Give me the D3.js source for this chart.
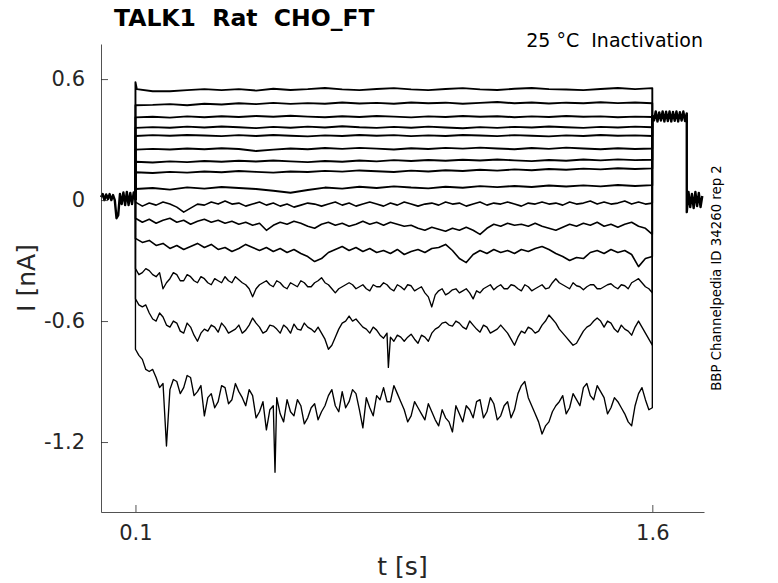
<!DOCTYPE html>
<html>
<head>
<meta charset="utf-8">
<script src="https://cdn.jsdelivr.net/npm/d3@7"></script>
<style>
    body { margin: 0; background: #fff; }
    svg text { font-family: "DejaVu Sans", sans-serif; white-space: pre; }
</style>
</head>
<body>
<svg id="chart" width="778" height="583"></svg>
<script>
// axis ticks
const yTicks = [0.6, 0, -0.6, -1.2];
const yTickLabels = ["0.6", "0", "-0.6", "-1.2"];
const xTicks = [0.1, 1.6];
const xTickLabels = ["0.1", "1.6"];

// holding current before the pulse (t in s, I in nA)
const holdTimes = [0, 0.005, 0.01, 0.015, 0.02, 0.025, 0.03, 0.035, 0.04, 0.045, 0.05,
    0.055, 0.06, 0.065, 0.07, 0.075, 0.08, 0.085, 0.09, 0.095, 0.1];
const holdCurrent = [0.015, 0.03, 0.0, 0.028, 0.005, 0.03, 0.0, 0.025, 0.0, -0.09, -0.075,
    0.03, -0.02, 0.038, -0.025, 0.04, -0.025, 0.035, -0.02, 0.038, 0.0];

// after the pulse: tail step, then back to holding
const postTimes = [1.6, 1.605, 1.61, 1.615, 1.62, 1.625, 1.63, 1.635, 1.64, 1.645, 1.65,
    1.655, 1.66, 1.665, 1.67, 1.675, 1.68, 1.685, 1.69, 1.695, 1.7,
    1.7, 1.705, 1.71, 1.715, 1.72, 1.725, 1.73, 1.735, 1.74, 1.745];
const postCurrent = [0.42, 0.395, 0.44, 0.39, 0.435, 0.395, 0.44, 0.39, 0.438, 0.392, 0.44,
    0.39, 0.437, 0.393, 0.44, 0.39, 0.436, 0.394, 0.44, 0.392, 0.43,
    -0.06, 0.04, -0.035, 0.03, -0.04, 0.04, -0.03, 0.035, -0.035, 0.02];

// sample times during the pulse
const coarseTimes = [0.1, 0.15, 0.2, 0.25, 0.3, 0.35, 0.4, 0.45, 0.5, 0.55, 0.6, 0.65, 0.7,
    0.75, 0.8, 0.85, 0.9, 0.95, 1.0, 1.05, 1.1, 1.15, 1.2, 1.25, 1.3, 1.35, 1.4, 1.45,
    1.5, 1.55, 1.6];
const fineTimes = [0.1, 0.12, 0.14, 0.16, 0.18, 0.2, 0.22, 0.24, 0.26, 0.28,
    0.3, 0.32, 0.34, 0.36, 0.38, 0.4, 0.42, 0.44, 0.46, 0.48,
    0.5, 0.52, 0.54, 0.56, 0.58, 0.6, 0.62, 0.64, 0.66, 0.68,
    0.7, 0.72, 0.74, 0.76, 0.78, 0.8, 0.82, 0.84, 0.86, 0.88,
    0.9, 0.92, 0.94, 0.96, 0.98, 1.0, 1.02, 1.04, 1.06, 1.08,
    1.1, 1.12, 1.14, 1.16, 1.18, 1.2, 1.22, 1.24, 1.26, 1.28,
    1.3, 1.32, 1.34, 1.36, 1.38, 1.4, 1.42, 1.44, 1.46, 1.48,
    1.5, 1.52, 1.54, 1.56, 1.58, 1.6];
const midTimes = [0.11, 0.13, 0.15, 0.17, 0.19, 0.21, 0.23, 0.25, 0.27, 0.29,
    0.31, 0.33, 0.35, 0.37, 0.39, 0.41, 0.43, 0.45, 0.47, 0.49,
    0.51, 0.53, 0.55, 0.57, 0.59, 0.61, 0.63, 0.65, 0.67, 0.69,
    0.71, 0.73, 0.75, 0.77, 0.79, 0.81, 0.83, 0.85, 0.87, 0.89,
    0.91, 0.93, 0.95, 0.97, 0.99, 1.01, 1.03, 1.05, 1.07, 1.09,
    1.11, 1.13, 1.15, 1.17, 1.19, 1.21, 1.23, 1.25, 1.27, 1.29,
    1.31, 1.33, 1.35, 1.37, 1.39, 1.41, 1.43, 1.45, 1.47, 1.49,
    1.51, 1.53, 1.55, 1.57, 1.59];

// sweeps, top to bottom
const trace1 = [0.545, 0.54, 0.54, 0.545, 0.55, 0.545, 0.55, 0.543, 0.552, 0.546,
    0.55, 0.556, 0.549, 0.545, 0.551, 0.555, 0.549, 0.545, 0.551, 0.555,
    0.549, 0.546, 0.552, 0.556, 0.55, 0.548, 0.545, 0.551, 0.556, 0.55, 0.555];
const trace2 = [0.47, 0.472, 0.476, 0.47, 0.478, 0.474, 0.48, 0.476, 0.482, 0.477,
    0.481, 0.478, 0.484, 0.479, 0.482, 0.478, 0.484, 0.48, 0.483, 0.478,
    0.482, 0.486, 0.48, 0.484, 0.479, 0.483, 0.48, 0.485, 0.481, 0.484, 0.48];
const trace3 = [0.41, 0.413, 0.409, 0.415, 0.411, 0.416, 0.412, 0.417, 0.413, 0.418,
    0.414, 0.411, 0.416, 0.412, 0.417, 0.414, 0.41, 0.415, 0.412, 0.417,
    0.413, 0.416, 0.411, 0.415, 0.412, 0.417, 0.413, 0.415, 0.411, 0.414, 0.412];
const trace4 = [0.358, 0.362, 0.359, 0.364, 0.36, 0.365, 0.361, 0.357, 0.363, 0.359,
    0.364, 0.36, 0.366, 0.361, 0.358, 0.363, 0.359, 0.364, 0.36, 0.356,
    0.362, 0.358, 0.363, 0.36, 0.365, 0.361, 0.358, 0.363, 0.36, 0.364, 0.361];
const trace5 = [0.318, 0.322, 0.319, 0.323, 0.32, 0.317, 0.322, 0.318, 0.323, 0.319,
    0.316, 0.321, 0.318, 0.323, 0.319, 0.322, 0.317, 0.321, 0.318, 0.323,
    0.32, 0.317, 0.322, 0.319, 0.316, 0.321, 0.318, 0.323, 0.319, 0.321, 0.318];
const trace6 = [0.25, 0.254, 0.251, 0.256, 0.252, 0.257, 0.253, 0.243, 0.25, 0.256,
    0.252, 0.258, 0.254, 0.259, 0.255, 0.251, 0.257, 0.253, 0.259, 0.255,
    0.26, 0.256, 0.252, 0.258, 0.254, 0.26, 0.256, 0.252, 0.257, 0.253, 0.256];
const trace7 = [0.19, 0.186, 0.192, 0.188, 0.194, 0.19, 0.195, 0.191, 0.196, 0.192,
    0.188, 0.194, 0.19, 0.196, 0.192, 0.198, 0.194, 0.199, 0.195, 0.2,
    0.196, 0.201, 0.197, 0.193, 0.199, 0.195, 0.201, 0.197, 0.202, 0.198, 0.2];
const trace8 = [0.138, 0.134, 0.14, 0.136, 0.142, 0.138, 0.144, 0.14, 0.136, 0.142,
    0.139, 0.145, 0.141, 0.147, 0.143, 0.139, 0.146, 0.142, 0.148, 0.144,
    0.15, 0.146, 0.152, 0.148, 0.154, 0.15, 0.156, 0.152, 0.158, 0.154, 0.157];
const trace9 = [0.055, 0.06, 0.052, 0.063, 0.057, 0.065, 0.06, 0.055, 0.046, 0.036,
    0.05, 0.062, 0.057, 0.066, 0.06, 0.068, 0.062, 0.058, 0.066, 0.061,
    0.069, 0.064, 0.07, 0.065, 0.072, 0.067, 0.073, 0.068, 0.075, 0.07, 0.074];
const trace10 = [-0.01, -0.03, -0.015, -0.025, -0.01, -0.02, -0.035, -0.06, -0.04, -0.02,
    -0.025, -0.01, -0.02, -0.005, -0.02, -0.015, -0.03, -0.02, -0.01, -0.025,
    -0.015, -0.03, -0.02, -0.035, -0.025, -0.015, -0.02, -0.03, -0.02, -0.01,
    -0.025, -0.015, -0.03, -0.02, -0.01, -0.02, -0.03, -0.015, -0.025, -0.01,
    -0.02, -0.03, -0.02, -0.015, -0.025, -0.01, -0.02, -0.015, -0.03, -0.02,
    -0.01, -0.025, -0.015, -0.02, -0.01, -0.02, -0.03, -0.015, -0.02, -0.01,
    -0.02, -0.015, -0.025, -0.01, -0.02, -0.015, -0.005, -0.02, -0.01, -0.02,
    -0.015, -0.005, -0.02, -0.01, -0.02, -0.015];
const trace11 = [-0.09, -0.11, -0.095, -0.115, -0.1, -0.09, -0.11, -0.1, -0.12, -0.105,
    -0.095, -0.11, -0.1, -0.115, -0.105, -0.12, -0.11, -0.125, -0.115, -0.15,
    -0.125, -0.11, -0.12, -0.105, -0.115, -0.13, -0.14, -0.12, -0.11, -0.125,
    -0.115, -0.13, -0.12, -0.105, -0.12, -0.11, -0.125, -0.11, -0.12, -0.13,
    -0.125, -0.14, -0.15, -0.135, -0.145, -0.155, -0.14, -0.15, -0.135, -0.15,
    -0.17, -0.14, -0.12, -0.13, -0.115, -0.125, -0.12, -0.13, -0.115, -0.13,
    -0.14, -0.15, -0.135, -0.12, -0.13, -0.115, -0.125, -0.11, -0.13, -0.12,
    -0.135, -0.12, -0.11, -0.13, -0.14, -0.17];
const trace12 = [-0.19, -0.21, -0.2, -0.225, -0.215, -0.24, -0.225, -0.245, -0.23, -0.215,
    -0.235, -0.22, -0.245, -0.235, -0.255, -0.24, -0.22, -0.235, -0.25, -0.235,
    -0.255, -0.24, -0.26, -0.245, -0.265, -0.28, -0.305, -0.29, -0.26, -0.245,
    -0.23, -0.25, -0.235, -0.255, -0.24, -0.26, -0.25, -0.265, -0.245, -0.27,
    -0.255, -0.245, -0.26, -0.24, -0.235, -0.22, -0.25, -0.29, -0.31, -0.27,
    -0.25, -0.265, -0.245, -0.26, -0.25, -0.265, -0.245, -0.255, -0.24, -0.23,
    -0.245, -0.265, -0.28, -0.3, -0.285, -0.29, -0.26, -0.25, -0.265, -0.245,
    -0.26, -0.25, -0.27, -0.33, -0.29, -0.28];
const trace13 = [-0.34, -0.36, -0.35, -0.38, -0.44, -0.39, -0.37, -0.4, -0.38, -0.41,
    -0.39, -0.42, -0.4, -0.38, -0.41, -0.395, -0.42, -0.48, -0.42, -0.4,
    -0.43, -0.41, -0.44, -0.42, -0.4, -0.43, -0.41, -0.385, -0.42, -0.46,
    -0.43, -0.41, -0.44, -0.42, -0.45, -0.43, -0.41, -0.44, -0.42, -0.445,
    -0.425, -0.44, -0.46, -0.53, -0.45, -0.47, -0.445, -0.46, -0.44, -0.49,
    -0.46, -0.43, -0.445, -0.42, -0.44, -0.425, -0.45, -0.43, -0.44, -0.42,
    -0.435, -0.39, -0.42, -0.44, -0.425, -0.445, -0.42, -0.44, -0.43, -0.415,
    -0.44, -0.425, -0.41, -0.39, -0.43, -0.46];
const trace13Mid = [-0.37, -0.34, -0.37, -0.36, -0.41, -0.36, -0.4, -0.37, -0.4, -0.38,
    -0.41, -0.39, -0.41, -0.4, -0.38, -0.41, -0.44, -0.44, -0.41, -0.42,
    -0.4, -0.43, -0.41, -0.43, -0.41, -0.43, -0.4, -0.41, -0.44, -0.44,
    -0.42, -0.42, -0.43, -0.44, -0.42, -0.43, -0.42, -0.45, -0.43, -0.42,
    -0.45, -0.43, -0.48, -0.47, -0.44, -0.46, -0.44, -0.45, -0.46, -0.45,
    -0.44, -0.42, -0.43, -0.44, -0.42, -0.44, -0.42, -0.45, -0.43, -0.44,
    -0.41, -0.41, -0.43, -0.41, -0.43, -0.43, -0.42, -0.44, -0.42, -0.43,
    -0.42, -0.44, -0.4, -0.41, -0.44];
const trace14 = [-0.49, -0.53, -0.56, -0.6, -0.58, -0.63, -0.61, -0.66, -0.63, -0.7,
    -0.64, -0.62, -0.655, -0.63, -0.65, -0.62, -0.645, -0.585, -0.63, -0.65,
    -0.625, -0.66, -0.635, -0.615, -0.645, -0.63, -0.655, -0.66, -0.74, -0.68,
    -0.61, -0.575, -0.59, -0.63, -0.66, -0.645, -0.685, -0.68, -0.67, -0.7,
    -0.665, -0.71, -0.68, -0.66, -0.63, -0.605, -0.625, -0.61, -0.64, -0.62,
    -0.655, -0.63, -0.65, -0.62, -0.66, -0.72, -0.65, -0.63, -0.66, -0.62,
    -0.57, -0.61, -0.66, -0.7, -0.71, -0.65, -0.62, -0.585, -0.63, -0.61,
    -0.655, -0.64, -0.67, -0.6, -0.66, -0.72];
const trace14Mid = [-0.52, -0.52, -0.59, -0.56, -0.62, -0.6, -0.65, -0.61, -0.67, -0.66,
    -0.65, -0.63, -0.61, -0.66, -0.64, -0.66, -0.62, -0.61, -0.66, -0.62,
    -0.64, -0.62, -0.66, -0.64, -0.61, -0.64, -0.63, -0.69, -0.72, -0.64,
    -0.6, -0.6, -0.61, -0.64, -0.63, -0.67, -0.66, -0.7, -0.68, -0.68,
    -0.69, -0.67, -0.7, -0.64, -0.61, -0.62, -0.6, -0.63, -0.6, -0.64,
    -0.62, -0.66, -0.64, -0.64, -0.69, -0.68, -0.66, -0.64, -0.65, -0.6,
    -0.59, -0.64, -0.68, -0.72, -0.68, -0.63, -0.6, -0.6, -0.6, -0.64,
    -0.62, -0.65, -0.63, -0.63, -0.69];
const trace15 = [-0.74, -0.79, -0.85, -0.88, -0.91, -0.94, -0.9, -0.93, -0.88, -0.95,
    -1.07, -0.96, -1.0, -0.93, -0.99, -0.95, -1.02, -0.97, -1.05, -1.14,
    -1.02, -1.06, -0.99, -1.07, -1.02, -1.08, -1.01, -1.05, -0.97, -1.02,
    -0.95, -1.0, -0.96, -1.13, -1.03, -0.97, -0.93, -1.0, -0.96, -1.04,
    -1.07, -1.03, -1.09, -1.05, -1.12, -1.08, -1.15, -1.06, -1.02, -1.08,
    -0.99, -1.05, -1.01, -1.07, -1.0, -1.04, -0.92, -0.98, -1.06, -1.16,
    -1.1, -1.02, -0.97, -1.03, -0.99, -0.93, -0.97, -0.92, -0.98, -1.03,
    -1.0, -1.06, -1.12, -0.96, -0.99, -1.03];
const trace15Mid = [-0.77, -0.84, -0.84, -0.93, -1.22, -0.89, -0.96, -0.87, -0.97, -0.92,
    -0.98, -1.03, -0.92, -1.01, -0.91, -0.98, -0.94, -1.08, -1.0, -1.04,
    -0.98, -1.1, -1.05, -0.99, -1.11, -1.03, -1.09, -1.02, -0.94, -1.05,
    -1.03, -0.94, -1.04, -0.98, -1.07, -0.99, -1.0, -0.92, -1.0, -1.1,
    -1.0, -1.06, -1.01, -1.09, -1.04, -1.1, -1.02, -1.1, -1.04, -1.0,
    -1.08, -0.98, -1.09, -1.02, -1.08, -0.96, -0.9, -1.02, -1.1, -1.12,
    -1.05, -1.0, -1.06, -0.96, -1.02, -0.91, -0.99, -0.95, -1.06, -0.98,
    -1.03, -1.1, -1.02, -0.93, -1.04];

// short spikes between samples [t, I]
const spikes1 = [[0.1, 0.585], [0.104, 0.55]];
const spikes14 = [[0.834, -0.83]];
const spikes15 = [[0.505, -1.35]];

const sweeps = [
    [coarseTimes, trace1, null, spikes1], [coarseTimes, trace2], [coarseTimes, trace3],
    [coarseTimes, trace4], [coarseTimes, trace5], [coarseTimes, trace6],
    [coarseTimes, trace7], [coarseTimes, trace8], [coarseTimes, trace9],
    [fineTimes, trace10], [fineTimes, trace11], [fineTimes, trace12],
    [fineTimes, trace13, trace13Mid], [fineTimes, trace14, trace14Mid, spikes14],
    [fineTimes, trace15, trace15Mid, spikes15]
];

const svg = d3.select("#chart");

const x = d3.scaleLinear().domain([0, 1.75]).range([101, 704]);
const y = d3.scaleLinear().domain([-1.547, 0.774]).range([512, 44]);

const line = d3.line()
    .x(d => x(d[0]))
    .y(d => y(d[1]));

const sweepPoints = (times, values, midValues, spikes) => {
    const pts = times.map((t, i) => [t, values[i]]);
    if (midValues) pts.push(...midTimes.map((t, i) => [t, midValues[i]]));
    if (spikes) pts.push(...spikes);
    pts.sort((a, b) => a[0] - b[0]);
    return [[0.1, holdCurrent[holdCurrent.length - 1]], ...pts, [1.6, postCurrent[0]]];
};

const traces = svg.append("g")
    .attr("fill", "none")
    .attr("stroke", "black")
    .attr("stroke-linejoin", "round");

traces.append("path")
    .attr("d", line(holdTimes.map((t, i) => [t, holdCurrent[i]])))
    .attr("stroke-width", 2.4);

sweeps.forEach((s, i) => {
    traces.append("path")
        .attr("d", line(sweepPoints(s[0], s[1], s[2], s[3])))
        .attr("stroke-width", i < 9 ? 1.9 : (i < 12 ? 1.6 : 1.35));
});

traces.append("path")
    .attr("d", line(postTimes.map((t, i) => [t, postCurrent[i]])))
    .attr("stroke-width", 2.4);

// axes, MATLAB style: ticks point inward, no box
const yAxis = d3.axisLeft(y)
    .tickValues(yTicks)
    .tickFormat((d, i) => yTickLabels[i])
    .tickSizeInner(-7)
    .tickSizeOuter(0)
    .tickPadding(16);

const xAxis = d3.axisBottom(x)
    .tickValues(xTicks)
    .tickFormat((d, i) => xTickLabels[i])
    .tickSizeInner(-7)
    .tickSizeOuter(0)
    .tickPadding(13);

const styleAxis = g => {
    g.attr("color", "#262626")
        .attr("font-family", "DejaVu Sans")
        .attr("font-size", 21);
    g.selectAll("path, line").attr("stroke-width", 0.8);
};

svg.append("g")
    .attr("transform", "translate(101,0)")
    .call(yAxis)
    .call(styleAxis);

svg.append("g")
    .attr("transform", "translate(0,512)")
    .call(xAxis)
    .call(styleAxis);

// labels
svg.append("text")
    .attr("x", 402.5)
    .attr("y", 575)
    .attr("text-anchor", "middle")
    .attr("font-size", 25)
    .attr("fill", "#262626")
    .text("t [s]");

svg.append("text")
    .attr("transform", "translate(35,278)rotate(-90)")
    .attr("text-anchor", "middle")
    .attr("font-size", 25)
    .attr("fill", "#262626")
    .text("I [nA]");

svg.append("text")
    .attr("x", 114)
    .attr("y", 26)
    .attr("font-size", 23.5)
    .attr("font-weight", "bold")
    .attr("fill", "black")
    .text("TALK1  Rat  CHO_FT");

svg.append("text")
    .attr("x", 703)
    .attr("y", 47)
    .attr("text-anchor", "end")
    .attr("font-size", 19)
    .attr("fill", "black")
    .text("25 °C  Inactivation");

svg.append("text")
    .attr("transform", "translate(721,278)rotate(-90)")
    .attr("text-anchor", "middle")
    .attr("font-size", 13.3)
    .attr("fill", "black")
    .text("BBP Channelpedia ID 34260 rep 2");
</script>
</body>
</html>
